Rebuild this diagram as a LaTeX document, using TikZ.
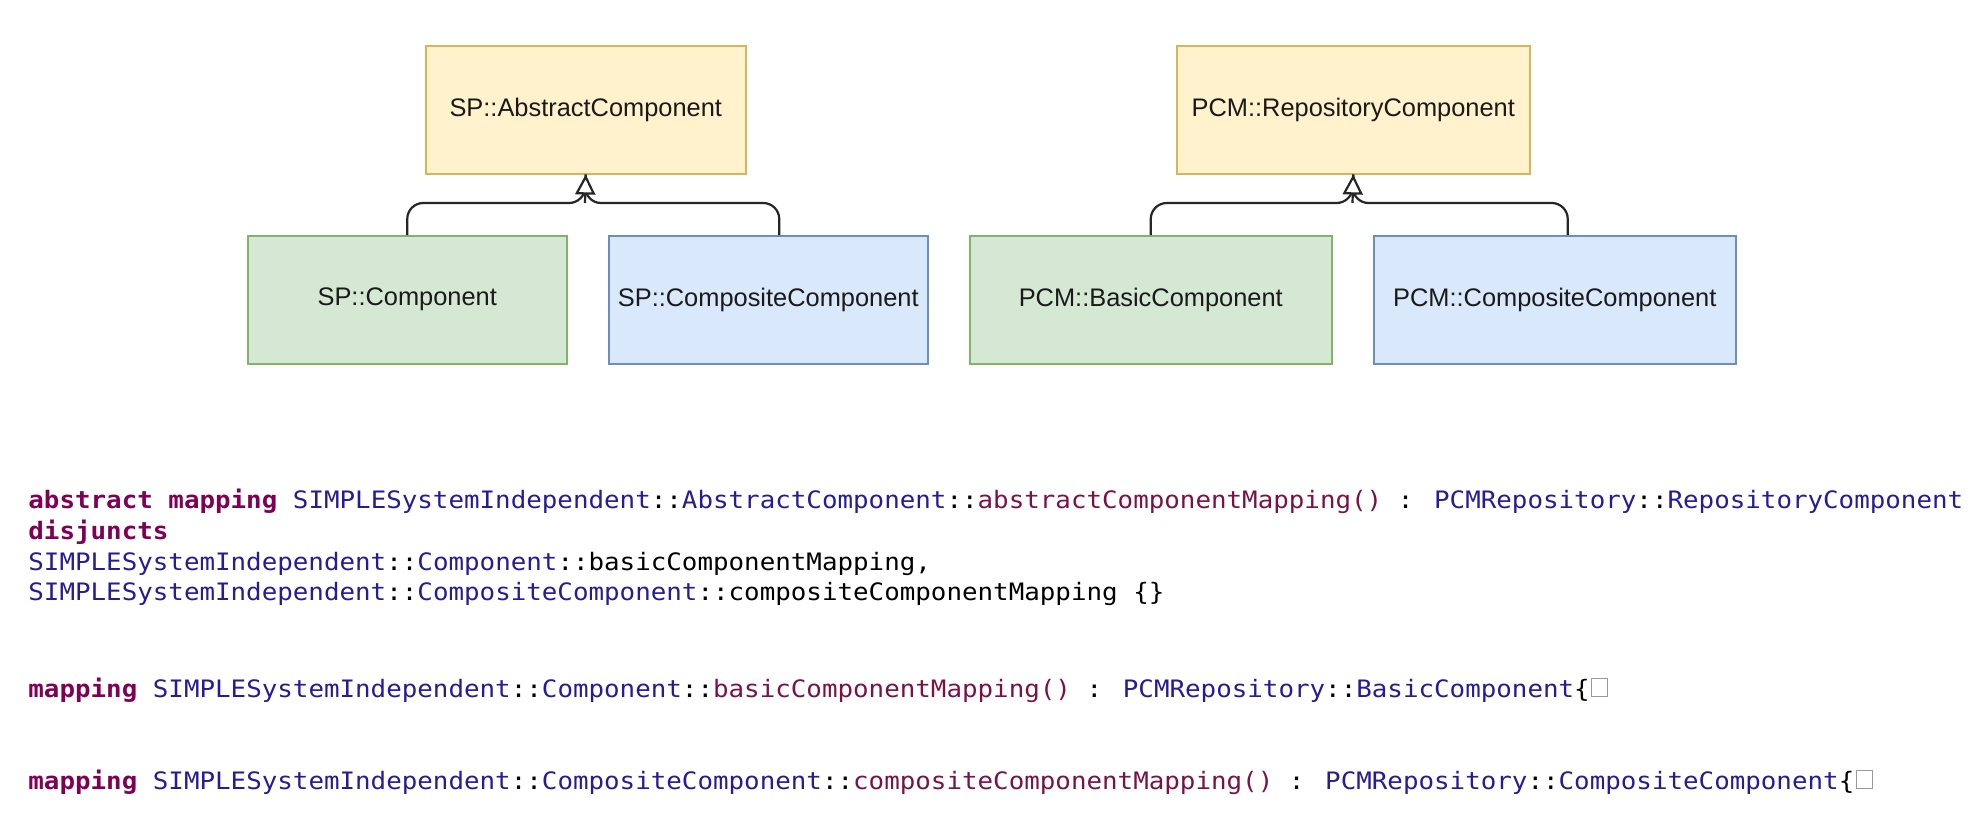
\documentclass[tikz,border=0pt]{standalone}
\usepackage{fontspec}
\setmainfont{Liberation Sans}
\newfontfamily\codefont[FakeStretch=1.077]{DejaVu Sans Mono}
\usetikzlibrary{arrows.meta}
\definecolor{kwc}{RGB}{127,0,85}
\definecolor{tyc}{RGB}{38,28,150}
\definecolor{fnc}{RGB}{122,18,72}
\definecolor{yfill}{HTML}{FFF2CC}
\definecolor{ydraw}{HTML}{D6B656}
\definecolor{gfill}{HTML}{D5E8D4}
\definecolor{gdraw}{HTML}{82B366}
\definecolor{bfill}{HTML}{DAE8FC}
\definecolor{bdraw}{HTML}{6C8EBF}
\definecolor{txtc}{HTML}{1A1A1A}
\newcommand\kwt[1]{\textcolor{kwc}{\bfseries #1}}
\newcommand\tyt[1]{\textcolor{tyc}{#1}}
\newcommand\fnt[1]{\textcolor{fnc}{#1}}
\tikzset{
  umlbox/.style={draw, line width=0.75pt, inner sep=0pt, anchor=north west,
    minimum height=64pt, text=txtc, font=\fontsize{12.7pt}{14pt}\selectfont},
  yelbox/.style={umlbox, fill=yfill, draw=ydraw},
  grnbox/.style={umlbox, fill=gfill, draw=gdraw},
  blubox/.style={umlbox, fill=bfill, draw=bdraw},
  conn/.style={line width=1.1pt, draw=black!85, rounded corners=8pt},
  genarrow/.style={line width=1.1pt, draw=black!85,
    -{Triangle[open, fill=white, length=10pt, width=10pt]}},
  codeline/.style={inner sep=0pt, anchor=base west, text=black,
    font=\codefont\fontsize{12pt}{13pt}\selectfont},
  foldbox/.style={draw=black!40, line width=0.5pt, inner sep=0pt,
    minimum width=8pt, minimum height=9pt, anchor=south west}
}
\begin{document}
\begin{tikzpicture}[x=0.5pt, y=-0.5pt]
\useasboundingbox (0,0) rectangle (1986,836);
\fill[white] (0,0) rectangle (1986,836);

% left group
\node[yelbox, minimum width=160pt] (abs) at (425,45) {SP::AbstractComponent};
\node[grnbox, minimum width=159.5pt] (spc) at (247,235) {SP::Component};
\node[blubox, minimum width=159.5pt] (spcc) at (608,235) {SP::CompositeComponent};
\coordinate (j1) at (585,203);
\draw[conn] (spc.north) |- (j1) -- (abs.south);
\draw[conn] ([xshift=5.5pt]spcc.north) |- (j1) -- (abs.south);
\draw[genarrow] (j1) -- (abs.south);

% right group
\node[yelbox, minimum width=176.5pt] (rep) at (1176,45) {PCM::RepositoryComponent};
\node[grnbox, minimum width=181pt] (pcmb) at (969,235) {PCM::BasicComponent};
\node[blubox, minimum width=181pt] (pcmc) at (1373,235) {PCM::CompositeComponent};
\coordinate (j2) at (1352.5,203);
\draw[conn] (pcmb.north) |- (j2) -- (rep.south);
\draw[conn] ([xshift=6.5pt]pcmc.north) |- (j2) -- (rep.south);
\draw[genarrow] (j2) -- (rep.south);

% code
\node[codeline] (l1) at (28,508) {\kwt{abstract mapping} \tyt{SIMPLESystemIndependent}::\tyt{AbstractComponent}::\fnt{abstractComponentMapping()} : \tyt{PCMRepository}::\tyt{RepositoryComponent}};
\node[codeline] (l2) at (28,539) {\kwt{disjuncts}};
\node[codeline] (l3) at (28,570) {\tyt{SIMPLESystemIndependent}::\tyt{Component}::basicComponentMapping,};
\node[codeline] (l4) at (28,600) {\tyt{SIMPLESystemIndependent}::\tyt{CompositeComponent}::compositeComponentMapping \{\}};
\node[codeline] (l5) at (28,697) {\kwt{mapping} \tyt{SIMPLESystemIndependent}::\tyt{Component}::\fnt{basicComponentMapping()} : \tyt{PCMRepository}::\tyt{BasicComponent}\{};
\node[foldbox] (f5) at ([xshift=0.5pt]l5.base east) {};
\node[codeline] (l6) at (28,789) {\kwt{mapping} \tyt{SIMPLESystemIndependent}::\tyt{CompositeComponent}::\fnt{compositeComponentMapping()} : \tyt{PCMRepository}::\tyt{CompositeComponent}\{};
\node[foldbox] (f6) at ([xshift=0.5pt]l6.base east) {};
\end{tikzpicture}
\end{document}
